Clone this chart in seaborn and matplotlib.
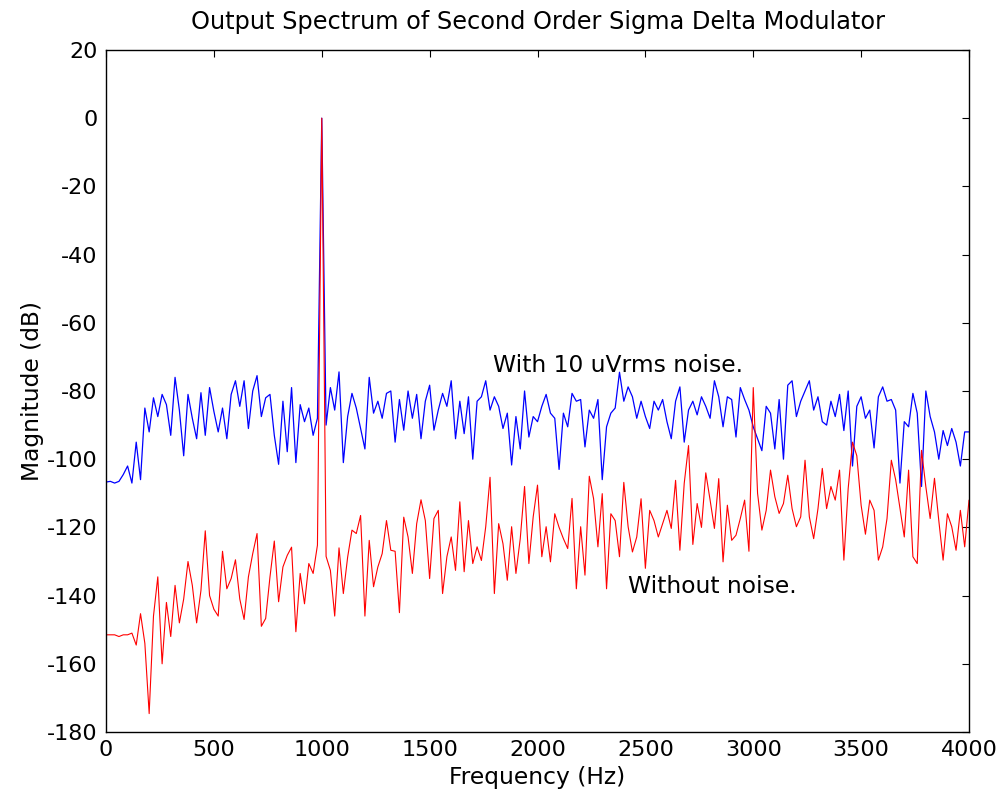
import numpy as np
import pandas as pd
import seaborn as sns
import matplotlib.pyplot as plt

# frequency bins (Hz), 20 Hz apart
freq = np.arange(0, 4001, 20)

# magnitude with 10 uVrms input noise (dB)
mag_noise = [
    -106.7, -106.5, -107, -106.5, -104.5, -102, -107, -95, -106, -85,
    -92, -82, -87.5, -81, -84, -93, -76, -85.6, -99, -81,
    -88, -94, -80.5, -93, -79, -86, -92, -85, -94, -81,
    -77, -84.5, -77, -91, -80, -75.5, -87.5, -82, -81, -93,
    -101.5, -83, -97.8, -79, -101, -84, -89, -85, -93, -88,
    0, -90, -79, -85.6, -74.4, -101, -87.5, -80.7, -85, -91,
    -97, -76, -86.5, -83, -88, -80.7, -80, -95, -82.5, -91.5,
    -80, -88, -81, -94, -83, -78.3, -91.5, -85.6, -80.7, -84.5,
    -77, -94, -83, -92.5, -81.7, -100, -83, -81.7, -77, -85.6,
    -81.7, -84.5, -91, -86.5, -101.7, -87.5, -97, -80, -93.5, -87.5,
    -89, -84.5, -81, -86.5, -88, -103, -86.5, -90.5, -80.7, -83,
    -82.5, -96.4, -85.6, -88, -82.5, -106, -90.5, -86.5, -85, -74.5,
    -83, -78.8, -81.7, -88, -83, -87.5, -91, -83, -85.6, -82.5,
    -89, -94, -83, -78.8, -95, -85.6, -83, -87, -81.7, -84.5,
    -88, -77, -81.7, -90.5, -81.7, -82.5, -93.5, -79, -82.5, -85.6,
    -90.5, -94, -97.5, -84.5, -86.5, -97, -82.5, -100, -78.3, -77,
    -87.5, -83, -80, -77, -85.6, -81.7, -89, -90, -83, -87.5,
    -81, -91.6, -80, -102, -84.5, -81.7, -88, -85.6, -96.7, -81.7,
    -78.8, -83, -82.5, -85.6, -107, -89, -90.5, -80.7, -86.5, -108,
    -80, -87.5, -92, -100, -91.6, -96, -91, -95, -102, -92,
    -92,
]

# magnitude without noise (dB)
mag_clean = [
    -151.5, -151.5, -151.5, -152, -151.5, -151.5, -151, -154.5, -145.3, -154,
    -174.6, -146, -134.5, -160, -142, -152, -137, -148, -141, -130,
    -137, -148, -138.5, -121, -140, -144, -146, -127, -138, -135,
    -129.5, -141, -147, -134.5, -127.7, -121.8, -149, -146.7, -134.5, -124,
    -141.8, -131.6, -128.2, -125.8, -150.6, -133.5, -142.4, -130.6, -133.5, -125.2,
    0, -128.5, -132.6, -146, -126, -139.4, -128.7, -120.8, -121.8, -116.5,
    -146, -123.8, -137.4, -131.6, -127.7, -118, -126.7, -127, -145, -117,
    -122.8, -133.5, -118.9, -111.9, -118, -135, -117.4, -115, -139.4, -128.6,
    -122.8, -132.6, -112.5, -133, -118, -130.6, -125.7, -129.7, -119.8, -105.3,
    -139.4, -118.9, -124.8, -135.5, -119.8, -133.5, -123.3, -108, -130.6, -116.9,
    -107.6, -128.6, -119.8, -130.1, -116, -120, -123.3, -126.2, -111.5, -138,
    -119.8, -134, -105, -111.6, -125.7, -110.1, -138, -116, -118, -128.6,
    -106.8, -119.8, -127.2, -122.8, -111.6, -132, -115, -118, -122.8, -118.9,
    -115, -120.3, -106.2, -126.7, -107.1, -96, -125, -113, -120, -104,
    -112, -120.3, -105.7, -130.1, -113.5, -123.8, -122.3, -117.4, -112, -127,
    -79, -110, -120.8, -115, -103.2, -111, -115.9, -113, -104.7, -114.5,
    -119.8, -116.9, -100.3, -116.9, -123.3, -114.5, -102.7, -114.5, -108, -112,
    -103.2, -129.6, -108.6, -95, -99, -113.5, -122, -112, -115, -129.6,
    -125.7, -117.4, -100.3, -106, -114.5, -122.8, -103.2, -128.6, -130.6, -97.4,
    -108.1, -117.4, -105.6, -118, -129.6, -116, -119.8, -126.7, -115, -125.7,
    -112,
]

df = pd.DataFrame({'freq': freq, 'noise': mag_noise, 'clean': mag_clean})

sns.set_theme(style='white')
plt.rcParams['font.family'] = ['DejaVu Sans']
plt.rcParams['axes.unicode_minus'] = False
plt.rcParams['text.color'] = 'black'
plt.rcParams['axes.labelcolor'] = 'black'

fig = plt.figure(figsize=(10.03, 8.06), dpi=100)
ax = fig.add_axes([0.1057, 0.0918, 0.8604, 0.8462])

sns.lineplot(data=df, x='freq', y='noise', color='#0000ff', lw=0.9,
             estimator=None, sort=False, ax=ax)
sns.lineplot(data=df, x='freq', y='clean', color='#ff0000', lw=0.8,
             estimator=None, sort=False, ax=ax)

ax.set_xlim(0, 4000)
ax.set_ylim(-180, 20)
ax.set_xticks(np.arange(0, 4001, 500))
ax.set_yticks(np.arange(-180, 21, 20))
ax.tick_params(direction='in', length=5, width=0.8, labelsize=16,
               top=True, right=True, colors='black', pad=6)
for s in ax.spines.values():
    s.set_color('black')
    s.set_linewidth(1.0)

ax.set_title('Output Spectrum of Second Order Sigma Delta Modulator',
             fontsize=17.3, pad=15)
ax.set_xlabel('Frequency (Hz)', fontsize=16.8, labelpad=4)
ax.set_ylabel('Magnitude (dB)', fontsize=16.8, labelpad=2)

ax.text(1793, -72.4, 'With 10 uVrms noise.', fontsize=16.8, va='center', ha='left')
ax.text(2419, -137.2, 'Without noise.', fontsize=16.8, va='center', ha='left')

fig.savefig('out.png', dpi=100)
